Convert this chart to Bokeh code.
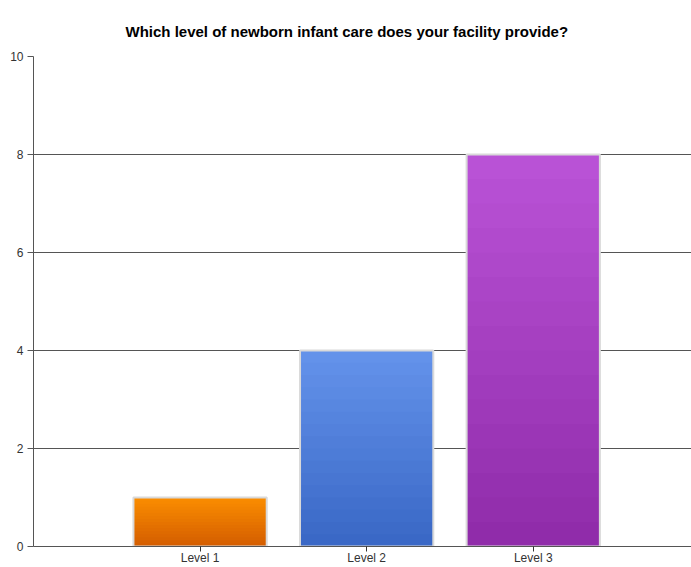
from bokeh.plotting import figure
from bokeh.models import FixedTicker, ColumnDataSource
from bokeh.embed import file_html
from bokeh.resources import INLINE

# Survey responses per care level
categories = ["Level 1", "Level 2", "Level 3"]
counts = [1, 4, 8]

# Gradient end colours for each bar (top, bottom)
top_colors = ["#FA8C00", "#6392EA", "#B952D6"]
bottom_colors = ["#D45E00", "#3A68C6", "#902CAA"]

y_ticks = [0, 2, 4, 6, 8, 10]

chart_title = "Which level of newborn infant care does your facility provide?"

FONT = "Liberation Sans"
BAR_WIDTH = 0.8
N_BANDS = 16


def hex_to_rgb(h):
    h = h.lstrip("#")
    return tuple(int(h[i:i + 2], 16) for i in (0, 2, 4))


def mix(c1, c2, t):
    a, b = hex_to_rgb(c1), hex_to_rgb(c2)
    return "#%02x%02x%02x" % tuple(round(a[i] + (b[i] - a[i]) * t) for i in range(3))


positions = list(range(1, len(categories) + 1))

p = figure(
    width=691, height=567,
    x_range=(0, 3.95), y_range=(0, 10),
    output_backend="svg", toolbar_location=None,
    min_border_left=33, min_border_right=0,
    min_border_bottom=21, min_border_top=56,
    title=chart_title,
)
p.background_fill_color = "white"
p.border_fill_color = "white"
p.outline_line_color = None

p.title.align = "left"
p.title.offset = 92
p.title.text_font = FONT
p.title.text_font_size = "15px"
p.title.text_font_style = "bold"
p.title.text_color = "#000000"
p.title.standoff = 34

# Banded vertical gradient for each bar, built from its count; each band
# runs up to the bar top so the next band overlaps it without seams
left, right, bottom, top, color = [], [], [], [], []
for x, v, ct, cb in zip(positions, counts, top_colors, bottom_colors):
    for i in range(N_BANDS):
        left.append(x - BAR_WIDTH / 2)
        right.append(x + BAR_WIDTH / 2)
        bottom.append(v * i / N_BANDS)
        top.append(v)
        color.append(mix(cb, ct, i / (N_BANDS - 1)))

bands = ColumnDataSource(dict(left=left, right=right, bottom=bottom, top=top, color=color))
p.quad(left="left", right="right", bottom="bottom", top="top", source=bands,
       fill_color="color", line_color=None)

bars = ColumnDataSource(dict(x=positions, top=counts))
p.vbar(x="x", top="top", width=BAR_WIDTH, source=bars,
       fill_color=None, line_color="#D9D9D9", line_width=2)

# Axes
p.yaxis.ticker = FixedTicker(ticks=y_ticks)
p.yaxis.minor_tick_line_color = None
p.yaxis.major_tick_out = 6
p.yaxis.major_tick_in = 0
p.yaxis.axis_line_color = "#555555"
p.yaxis.major_tick_line_color = "#555555"
p.yaxis.major_label_text_font = FONT
p.yaxis.major_label_text_font_size = "12px"
p.yaxis.major_label_text_color = "#333333"
p.yaxis.major_label_standoff = 4

p.xaxis.ticker = FixedTicker(ticks=positions)
p.xaxis.major_label_overrides = {x: c for x, c in zip(positions, categories)}
p.xaxis.minor_tick_line_color = None
p.xaxis.major_tick_out = 5
p.xaxis.major_tick_in = 0
p.xaxis.axis_line_color = "#555555"
p.xaxis.major_tick_line_color = "#333333"
p.xaxis.major_label_text_font = FONT
p.xaxis.major_label_text_font_size = "12px"
p.xaxis.major_label_text_color = "#333333"
p.xaxis.major_label_standoff = -1

p.xgrid.grid_line_color = None
p.ygrid.grid_line_color = "#555555"
p.ygrid.grid_line_width = 1

open("out.html", "w").write(file_html(p, INLINE))
